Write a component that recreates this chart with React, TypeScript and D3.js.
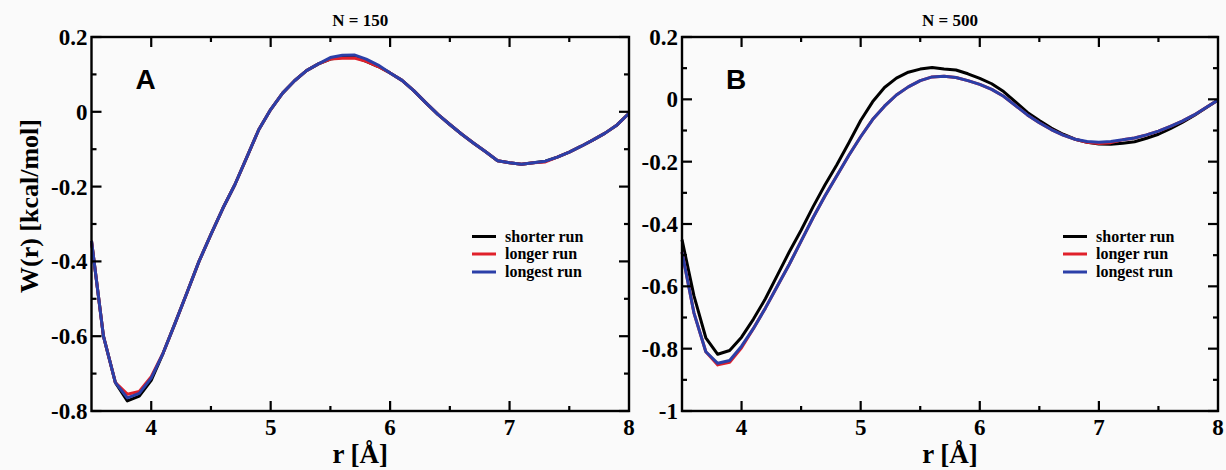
import React from "react";
import * as d3 from "d3";

// Radial grid (Å)
const rGrid = [
  3.5, 3.6, 3.7, 3.8, 3.9, 4.0, 4.1, 4.2, 4.3, 4.4, 4.5, 4.6, 4.7, 4.8, 4.9, 5.0,
  5.1, 5.2, 5.3, 5.4, 5.5, 5.6, 5.7, 5.8, 5.9, 6.0, 6.1, 6.2, 6.3, 6.4, 6.5, 6.6,
  6.7, 6.8, 6.9, 7.0, 7.1, 7.2, 7.3, 7.4, 7.5, 7.6, 7.7, 7.8, 7.9, 8.0,
];

// N = 150
const n150Shorter = [
  -0.345, -0.6, -0.724, -0.773, -0.76, -0.718, -0.645, -0.565, -0.483, -0.4, -0.328, -0.258,
  -0.195, -0.122, -0.048, 0.006, 0.05, 0.083, 0.11, 0.128, 0.141, 0.146, 0.147, 0.135, 0.121,
  0.104, 0.084, 0.056, 0.024, -0.007, -0.034, -0.06, -0.084, -0.107, -0.131, -0.136, -0.14,
  -0.136, -0.132, -0.121, -0.108, -0.092, -0.075, -0.057, -0.035, -0.004,
];
const n150Longer = [
  -0.345, -0.6, -0.724, -0.755, -0.748, -0.708, -0.645, -0.565, -0.483, -0.4, -0.328, -0.258,
  -0.195, -0.122, -0.048, 0.006, 0.05, 0.083, 0.11, 0.128, 0.141, 0.143, 0.144, 0.135, 0.121,
  0.104, 0.084, 0.056, 0.024, -0.007, -0.034, -0.06, -0.084, -0.107, -0.131, -0.136, -0.14,
  -0.136, -0.134, -0.121, -0.108, -0.092, -0.075, -0.057, -0.035, -0.004,
];
const n150Longest = [
  -0.345, -0.6, -0.724, -0.765, -0.753, -0.712, -0.645, -0.565, -0.483, -0.4, -0.328, -0.258,
  -0.195, -0.122, -0.048, 0.006, 0.05, 0.083, 0.11, 0.128, 0.145, 0.151, 0.152, 0.141, 0.125,
  0.104, 0.084, 0.056, 0.024, -0.007, -0.034, -0.06, -0.084, -0.107, -0.131, -0.136, -0.14,
  -0.136, -0.132, -0.121, -0.108, -0.092, -0.075, -0.057, -0.035, -0.004,
];

// N = 500
const n500Shorter = [
  -0.45, -0.63, -0.765, -0.818, -0.806, -0.763, -0.705, -0.64, -0.565, -0.49, -0.42, -0.345,
  -0.275, -0.21, -0.14, -0.068, -0.008, 0.038, 0.068, 0.087, 0.097, 0.102, 0.097, 0.094, 0.082,
  0.067, 0.05, 0.025, -0.008, -0.042, -0.068, -0.092, -0.112, -0.128, -0.138, -0.143, -0.144,
  -0.141, -0.136, -0.125, -0.112, -0.094, -0.074, -0.052, -0.027, -0.002,
];
const n500Longer = [
  -0.49, -0.685, -0.81, -0.852, -0.844, -0.797, -0.735, -0.67, -0.6, -0.53, -0.455, -0.38,
  -0.31, -0.245, -0.18, -0.12, -0.065, -0.022, 0.014, 0.04, 0.06, 0.072, 0.074, 0.07, 0.06,
  0.048, 0.032, 0.01, -0.02, -0.05, -0.075, -0.097, -0.115, -0.128, -0.138, -0.142, -0.139,
  -0.13, -0.124, -0.114, -0.102, -0.087, -0.07, -0.05, -0.026, -0.002,
];
const n500Longest = [
  -0.49, -0.685, -0.81, -0.847, -0.838, -0.792, -0.735, -0.67, -0.6, -0.53, -0.455, -0.38,
  -0.31, -0.245, -0.18, -0.12, -0.065, -0.022, 0.014, 0.04, 0.06, 0.072, 0.074, 0.07, 0.06,
  0.048, 0.032, 0.01, -0.02, -0.05, -0.075, -0.097, -0.115, -0.128, -0.135, -0.138, -0.135,
  -0.13, -0.124, -0.114, -0.102, -0.087, -0.07, -0.05, -0.026, -0.002,
];

const seriesNames = ["shorter run", "longer run", "longest run"];
const seriesColors = ["#000000", "#e0202a", "#2b3fa8"];

const xMajorTicks = [4, 5, 6, 7, 8];
const xMinorTicks = [4.5, 5.5, 6.5, 7.5];
const yTicksA = [0.2, 0, -0.2, -0.4, -0.6, -0.8];
const yMinorA = [0.1, -0.1, -0.3, -0.5, -0.7];
const yTicksB = [0.2, 0, -0.2, -0.4, -0.6, -0.8, -1];
const yMinorB = [0.1, -0.1, -0.3, -0.5, -0.7, -0.9];

const W = 1226;
const H = 470;
const TOP = 37;
const BOTTOM = 411;
const SERIF = "'Liberation Serif', 'Times New Roman', Times, serif";
const SANS = "'Liberation Sans', Arial, Helvetica, sans-serif";

type PanelProps = {
  left: number;
  right: number;
  yDomain: [number, number];
  yTicks: number[];
  yMinor: number[];
  title: string;
  letter: string;
  series: number[][];
  legendX: number;
};

function Panel({ left, right, yDomain, yTicks, yMinor, title, letter, series, legendX }: PanelProps) {
  const x = d3.scaleLinear().domain([3.5, 8]).range([left, right]);
  const y = d3.scaleLinear().domain(yDomain).range([BOTTOM, TOP]);
  const line = d3
    .line<number>()
    .x((_, i) => x(rGrid[i]))
    .y((d) => y(d));
  const major = 10;
  const minor = 5;
  const fmt = (v: number) => (v === 0 ? "0" : String(v));
  const legendRows = [236.5, 254, 272];
  const serif = { fontFamily: SERIF, fontWeight: 700 as const };

  return (
    <g>
      <g fill="none" strokeLinejoin="round" strokeWidth={3}>
        {series.map((s, i) => (
          <path key={i} d={line(s) || ""} stroke={seriesColors[i]} />
        ))}
      </g>
      <rect
        x={left}
        y={TOP}
        width={right - left}
        height={BOTTOM - TOP}
        fill="none"
        stroke="#000"
        strokeWidth={2.4}
      />
      <g stroke="#000" strokeWidth={2.2}>
        {xMajorTicks.filter((t) => t < 8).map((t) => (
          <g key={"xm" + t}>
            <line x1={x(t)} x2={x(t)} y1={BOTTOM} y2={BOTTOM - major} />
            <line x1={x(t)} x2={x(t)} y1={TOP} y2={TOP + major} />
          </g>
        ))}
        {xMinorTicks.map((t) => (
          <g key={"xn" + t}>
            <line x1={x(t)} x2={x(t)} y1={BOTTOM} y2={BOTTOM - minor} />
            <line x1={x(t)} x2={x(t)} y1={TOP} y2={TOP + minor} />
          </g>
        ))}
        {yTicks.map((t) => (
          <g key={"ym" + t}>
            <line x1={left} x2={left + major} y1={y(t)} y2={y(t)} />
            <line x1={right} x2={right - major} y1={y(t)} y2={y(t)} />
          </g>
        ))}
        {yMinor.map((t) => (
          <g key={"yn" + t}>
            <line x1={left} x2={left + minor} y1={y(t)} y2={y(t)} />
            <line x1={right} x2={right - minor} y1={y(t)} y2={y(t)} />
          </g>
        ))}
      </g>
      <g style={{ ...serif, fontSize: 23 }} fill="#000">
        {xMajorTicks.map((t) => (
          <text key={"xl" + t} x={x(t)} y={435} textAnchor="middle">
            {t}
          </text>
        ))}
        {yTicks.map((t) => (
          <text key={"yl" + t} x={left - 4} y={y(t)} dy="0.35em" textAnchor="end">
            {fmt(t)}
          </text>
        ))}
      </g>
      <text x={(left + right) / 2} y={463} textAnchor="middle" style={{ ...serif, fontSize: 27 }}>
        r [Å]
      </text>
      <text x={(left + right) / 2} y={26} textAnchor="middle" style={{ ...serif, fontSize: 17 }}>
        {title}
      </text>
      <text
        x={left + 44}
        y={89}
        style={{ fontFamily: SANS, fontWeight: 700, fontSize: 28 }}
      >
        {letter}
      </text>
      <g>
        {seriesNames.map((name, i) => (
          <g key={name}>
            <line
              x1={legendX}
              x2={legendX + 24}
              y1={legendRows[i]}
              y2={legendRows[i]}
              stroke={seriesColors[i]}
              strokeWidth={3}
            />
            <text
              x={legendX + 33}
              y={legendRows[i]}
              dy="0.33em"
              style={{ ...serif, fontSize: 16 }}
            >
              {name}
            </text>
          </g>
        ))}
      </g>
    </g>
  );
}

export default function App() {
  return (
    <svg
      width={W}
      height={H}
      viewBox={`0 0 ${W} ${H}`}
      style={{ position: "absolute", left: 0, top: 0, background: "#fafafa" }}
    >
      <rect x={0} y={0} width={W} height={H} fill="#fafafa" />
      <Panel
        left={91.5}
        right={629}
        yDomain={[-0.8, 0.2]}
        yTicks={yTicksA}
        yMinor={yMinorA}
        title="N = 150"
        letter="A"
        series={[n150Shorter, n150Longer, n150Longest]}
        legendX={472}
      />
      <Panel
        left={682}
        right={1218}
        yDomain={[-1, 0.2]}
        yTicks={yTicksB}
        yMinor={yMinorB}
        title="N = 500"
        letter="B"
        series={[n500Shorter, n500Longer, n500Longest]}
        legendX={1063}
      />
      <text
        transform="translate(38,206) rotate(-90)"
        textAnchor="middle"
        style={{ fontFamily: SERIF, fontWeight: 700, fontSize: 26 }}
      >
        W(r) [kcal/mol]
      </text>
    </svg>
  );
}
